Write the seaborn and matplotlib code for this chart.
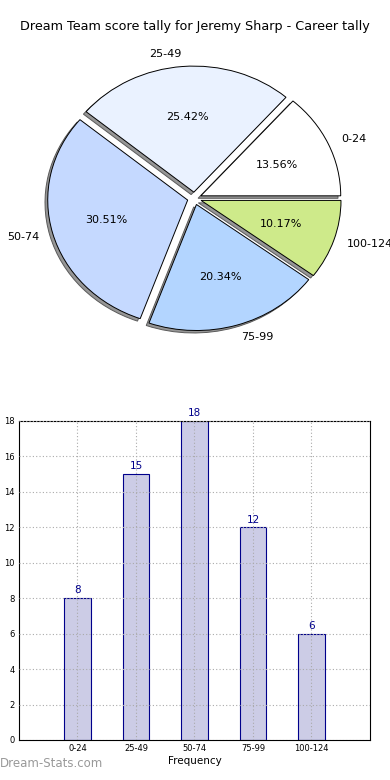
import numpy as np
import pandas as pd
import matplotlib
matplotlib.use("Agg")
import matplotlib.pyplot as plt
import seaborn as sns

# score bands and how often each was hit
categories = ["0-24", "25-49", "50-74", "75-99", "100-124"]
counts = [8, 15, 18, 12, 6]

title = "Dream Team score tally for Jeremy Sharp - Career tally"

df = pd.DataFrame({"band": categories, "count": counts})

sns.set_style("white")
plt.rcParams['font.family'] = ['DejaVu Sans']
plt.rcParams['text.color'] = 'black'
plt.rcParams['axes.labelcolor'] = 'black'
plt.rcParams['xtick.color'] = 'black'
plt.rcParams['ytick.color'] = 'black'

fig = plt.figure(figsize=(3.9, 7.8), dpi=100)

# Pie chart on top
pie_colors = ["#ffffff", "#eaf2ff", "#c5d9ff", "#b3d5ff", "#ceea8a"]
ax1 = fig.add_axes([0.05, 0.5436, 0.897, 0.404])
ax1.pie(df["count"], labels=df["band"], colors=pie_colors,
        explode=[0.05] * len(counts), autopct="%.2f%%", startangle=0,
        shadow={'ox': -0.014, 'oy': -0.014, 'facecolor': '#969696',
                'edgecolor': '#5a5a5a', 'alpha': 1},
        wedgeprops={'edgecolor': 'black', 'linewidth': 0.7},
        textprops={'fontsize': 8, 'color': 'black'})
ax1.set_aspect('auto')
ax1.set_xlim(-1.25, 1.25)
ax1.set_ylim(-1.25, 1.25)
ax1.set_title(title, fontsize=9.2, pad=8, color='black')

# Bar chart below
ax2 = fig.add_axes([0.0487, 0.0513, 0.9, 0.409])
sns.barplot(data=df, x="band", y="count", ax=ax2, width=0.45,
            color="#ccccE6", saturation=1, edgecolor="#00008b", linewidth=0.8)
ax2.bar_label(ax2.containers[0], color="#00008b", fontsize=7.5, padding=2)
ax2.set_xlim(-1, 5)
ax2.set_ylim(0, 18)
ax2.set_yticks(np.arange(0, 19, 2))
ax2.grid(True, linestyle=(0, (1, 2)), color='#aaaaaa', linewidth=0.8)
ax2.set_axisbelow(False)
ax2.tick_params(labelsize=6, length=2, direction='in', pad=3)
ax2.set_xlabel("Frequency", fontsize=7.5, labelpad=2)
ax2.set_ylabel("Score Instances", fontsize=7.5)
ax2.yaxis.set_label_coords(-0.06, 0.5)
for s in ax2.spines.values():
    s.set_color('black')
    s.set_linewidth(0.8)

fig.text(0.0, 0.013, "Dream-Stats.com", fontsize=8.5, color='#999999',
         ha='left', va='bottom')

fig.savefig("out.png", dpi=100)
